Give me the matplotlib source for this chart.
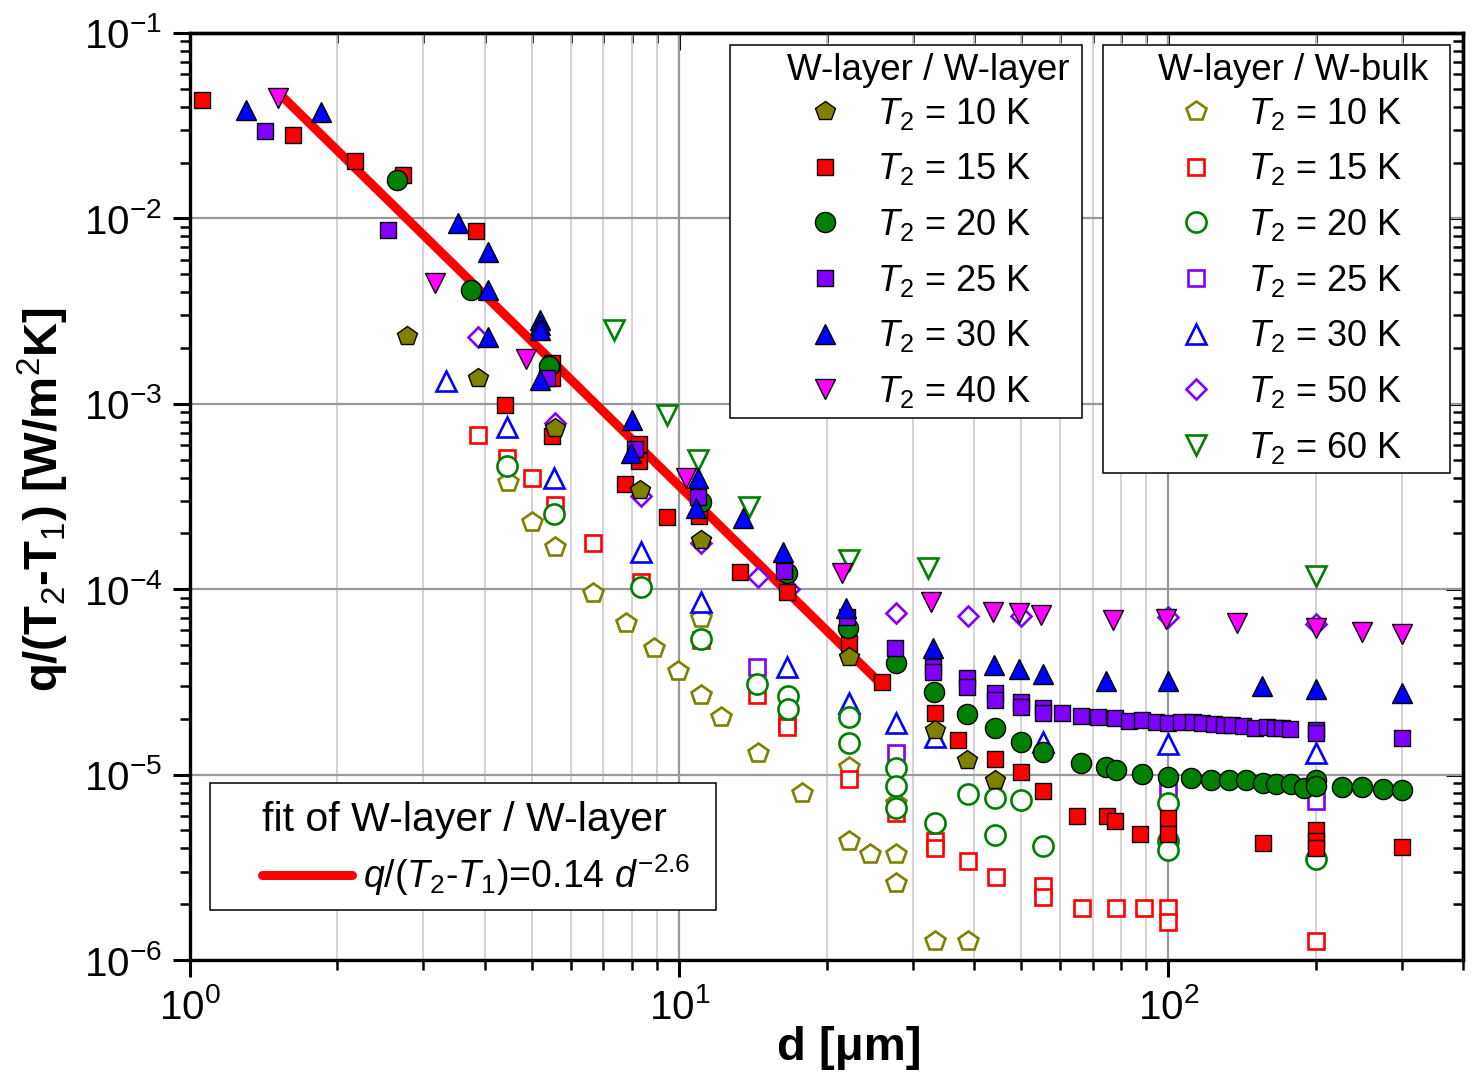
import matplotlib
matplotlib.use('Agg')
import matplotlib.pyplot as plt
from matplotlib.patches import Rectangle
from matplotlib.ticker import NullFormatter

plt.rcParams['font.family'] = ['Liberation Sans', 'DejaVu Sans']
plt.rcParams['mathtext.fontset'] = 'custom'
plt.rcParams['mathtext.rm'] = 'Liberation Sans'
plt.rcParams['mathtext.it'] = 'Liberation Sans:italic'
plt.rcParams['mathtext.bf'] = 'Liberation Sans:bold'

# ---------------- data: W-layer / W-layer (filled) ----------------
f10_d = [2.78, 3.88, 5.57, 8.3, 11.1, 22.2, 33.3, 38.7, 44.3]
f10_q = [2.33e-3, 1.37e-3, 7.4e-4, 3.44e-4, 1.85e-4, 4.3e-5, 1.74e-5, 1.2e-5, 9.4e-6]

f15_d = [1.06, 1.62, 2.17, 2.72, 3.84, 4.40, 5.49, 5.49, 5.5, 7.74, 8.28, 8.28, 9.43, 11.0,
         13.3, 16.6, 22.2, 26.0, 33.3, 37.2, 44.3, 49.9, 55.4, 65.0, 75.0, 77.6, 87.3,
         100, 100, 156, 200, 200, 200, 300]
f15_q = [4.35e-2, 2.82e-2, 2.04e-2, 1.71e-2, 8.5e-3, 9.9e-4, 1.67e-3, 1.37e-3, 6.7e-4, 3.7e-4,
         6.1e-4, 4.9e-4, 2.45e-4, 2.48e-4, 1.24e-4, 9.6e-5, 5.1e-5, 3.15e-5, 2.14e-5, 1.53e-5,
         1.21e-5, 1.03e-5, 8.2e-6, 6.0e-6, 6.0e-6, 5.65e-6, 4.8e-6, 5.8e-6, 4.8e-6, 4.3e-6,
         5.0e-6, 4.4e-6, 4.0e-6, 4.05e-6]

f20_d = [2.65, 3.75, 5.41, 11.1, 16.6, 22.1, 27.7, 33.1, 38.7, 44.3, 49.9, 55.3, 66.4, 74.7,
         78.0, 88.5, 100, 111, 122, 133, 144, 156, 166, 178, 189, 200, 200, 226, 249, 275, 300]
f20_q = [1.61e-2, 4.1e-3, 1.59e-3, 2.96e-4, 1.22e-4, 6.2e-5, 4.0e-5, 2.78e-5, 2.12e-5, 1.78e-5,
         1.49e-5, 1.32e-5, 1.15e-5, 1.10e-5, 1.06e-5, 1.01e-5, 9.75e-6, 9.6e-6, 9.4e-6, 9.3e-6,
         9.3e-6, 9.05e-6, 8.9e-6, 8.9e-6, 8.5e-6, 9.3e-6, 8.7e-6, 8.6e-6, 8.6e-6, 8.4e-6, 8.3e-6]

f25_d = [1.42, 2.54, 5.36, 8.12, 10.9, 16.4, 22.0, 27.6, 33.0, 33.0, 38.7, 38.7, 44.3, 44.3,
         49.9, 49.9, 55.3, 55.3, 60.7, 66.4, 71.9, 77.6, 83.2, 88.5, 94.5, 100, 106, 112, 117,
         124, 130, 135, 142, 150, 159, 165, 171, 177, 200, 200, 300]
f25_q = [2.96e-2, 8.7e-3, 1.37e-3, 5.7e-4, 3.15e-4, 1.26e-4, 7.1e-5, 4.8e-5, 3.8e-5, 3.56e-5,
         3.3e-5, 2.96e-5, 2.75e-5, 2.52e-5, 2.45e-5, 2.31e-5, 2.28e-5, 2.14e-5, 2.16e-5, 2.07e-5,
         2.05e-5, 2.02e-5, 1.94e-5, 1.97e-5, 1.92e-5, 1.89e-5, 1.92e-5, 1.92e-5, 1.89e-5, 1.87e-5,
         1.85e-5, 1.85e-5, 1.82e-5, 1.78e-5, 1.80e-5, 1.78e-5, 1.78e-5, 1.76e-5, 1.74e-5, 1.67e-5,
         1.57e-5]

f30_d = [1.30, 1.85, 3.53, 4.06, 4.06, 4.06, 5.19, 5.19, 5.19, 5.19, 7.96, 8.0, 10.8, 10.9,
         13.5, 16.3, 21.9, 33.0, 43.9, 49.4, 55.3, 74.7, 100, 155, 200, 300]
f30_q = [3.84e-2, 3.75e-2, 9.4e-3, 6.6e-3, 4.1e-3, 2.3e-3, 2.82e-3, 2.65e-3, 2.5e-3, 1.34e-3,
         5.4e-4, 8.2e-4, 2.75e-4, 4.0e-4, 2.43e-4, 1.59e-4, 7.9e-5, 4.8e-5, 3.9e-5, 3.7e-5,
         3.5e-5, 3.2e-5, 3.2e-5, 3.0e-5, 2.9e-5, 2.75e-5]

f40_d = [1.51, 3.17, 4.86, 10.3, 21.5, 32.7, 43.7, 49.4, 55.0, 76.9, 99.0, 138, 200, 249, 300]
f40_q = [4.46e-2, 4.5e-3, 1.74e-3, 4.0e-4, 1.22e-4, 8.5e-5, 7.5e-5, 7.4e-5, 7.3e-5, 6.8e-5,
         6.9e-5, 6.55e-5, 6.2e-5, 5.9e-5, 5.7e-5]

# ---------------- data: W-layer / W-bulk (open) ----------------
o10_d = [4.46, 5.0, 5.57, 6.66, 7.8, 8.9, 9.95, 11.1, 11.1, 12.2, 14.5, 17.8, 22.2, 22.2,
         24.5, 27.7, 27.7, 27.7, 33.3, 38.9]
o10_q = [3.8e-4, 2.31e-4, 1.69e-4, 9.5e-5, 6.55e-5, 4.8e-5, 3.6e-5, 7.0e-5, 2.7e-5, 2.04e-5,
         1.3e-5, 8.0e-6, 1.1e-5, 4.4e-6, 3.75e-6, 7.0e-6, 3.75e-6, 2.6e-6, 1.27e-6, 1.27e-6]

o15_d = [3.88, 4.44, 5.0, 5.57, 6.66, 8.35, 11.1, 14.4, 16.6, 16.6, 22.2, 27.8, 33.3, 33.3,
         38.9, 44.5, 55.4, 55.4, 66.6, 78.0, 89.0, 100, 100, 200]
o15_q = [6.8e-4, 5.1e-4, 4.0e-4, 2.85e-4, 1.78e-4, 1.1e-4, 5.3e-5, 2.7e-5, 1.92e-5, 1.8e-5,
         9.5e-6, 6.2e-6, 4.4e-6, 4.0e-6, 3.4e-6, 2.8e-6, 2.5e-6, 2.2e-6, 1.9e-6, 1.9e-6,
         1.9e-6, 1.9e-6, 1.6e-6, 1.27e-6]

o20_d = [4.44, 5.55, 8.35, 11.1, 14.4, 16.7, 16.7, 22.2, 22.2, 27.8, 27.8, 27.8, 33.3, 38.9,
         44.3, 44.3, 50.0, 55.4, 100, 100, 100, 200]
o20_q = [4.6e-4, 2.55e-4, 1.03e-4, 5.4e-5, 3.1e-5, 2.65e-5, 2.26e-5, 2.04e-5, 1.48e-5, 1.08e-5,
         8.7e-6, 6.6e-6, 5.5e-6, 7.9e-6, 7.5e-6, 4.7e-6, 7.3e-6, 4.1e-6, 7.0e-6, 4.4e-6,
         3.9e-6, 3.5e-6]

o25_d = [14.4, 27.8, 100, 200]
o25_q = [3.8e-5, 1.3e-5, 8.4e-6, 7.2e-6]

o30_d = [3.33, 4.44, 5.55, 8.35, 11.1, 16.6, 22.2, 27.8, 33.3, 55.4, 100, 200]
o30_q = [1.32e-3, 7.5e-4, 4.0e-4, 1.59e-4, 8.5e-5, 3.8e-5, 2.43e-5, 1.89e-5, 1.59e-5,
         1.49e-5, 1.47e-5, 1.3e-5]

o50_d = [3.88, 5.57, 8.35, 11.1, 14.5, 16.8, 27.8, 38.9, 49.9, 100, 200]
o50_q = [2.28e-3, 7.9e-4, 3.2e-4, 1.78e-4, 1.17e-4, 1.0e-4, 7.4e-5, 7.2e-5, 7.2e-5, 7.1e-5, 6.5e-5]

o60_d = [7.35, 9.43, 10.9, 13.9, 22.2, 32.2, 200]
o60_q = [2.5e-3, 8.7e-4, 5.0e-4, 2.78e-4, 1.44e-4, 1.3e-4, 1.18e-4]

# fit line end points
fit_d = [1.55, 25.8]
fit_q = [4.5e-2, 3.1e-5]

filled_labels = ['10', '15', '20', '25', '30', '40']
open_labels = ['10', '15', '20', '25', '30', '50', '60']

OLIVE = '#808000'
RED = '#ff0000'
GREEN = '#008000'
PURPLE = '#8000ff'
BLUE = '#0000ff'
MAGENTA = '#ff00ff'

fig = plt.figure(figsize=(14.75, 10.73), dpi=100)
ax = fig.add_axes([190 / 1475, 1 - 960 / 1073, 1273 / 1475, 927 / 1073])
ax.set_xscale('log')
ax.set_yscale('log')
ax.set_xlim(1, 400)
ax.set_ylim(1e-6, 1e-1)

ax.set_axisbelow(True)
ax.grid(True, which='major', axis='both', color='#999999', lw=1.6)
ax.grid(True, which='minor', axis='x', color='#d0d0d0', lw=1.3)

ax.plot(fit_d, fit_q, color=RED, lw=6.5, solid_capstyle='round', zorder=1.5,
        label=r'$q$/($T_2$-$T_1$)=0.14 $d^{-2.6}$')

styles = {
    '10': ('p', 15, OLIVE),
    '15': ('s', 11.5, RED),
    '20': ('o', 14.5, GREEN),
    '25': ('s', 11.5, PURPLE),
    '30': ('^', 15, BLUE),
    '40': ('v', 15, MAGENTA),
    '50': ('D', 10.5, PURPLE),
    '60': ('v', 15, GREEN),
}

open_data = {'10': (o10_d, o10_q), '15': (o15_d, o15_q), '25': (o25_d, o25_q),
             '30': (o30_d, o30_q), '50': (o50_d, o50_q), '60': (o60_d, o60_q),
             '20': (o20_d, o20_q)}
filled_data = {'15': (f15_d, f15_q), '20': (f20_d, f20_q), '25': (f25_d, f25_q),
               '30': (f30_d, f30_q), '40': (f40_d, f40_q), '10': (f10_d, f10_q)}

open_h = {}
for key, (d, q) in open_data.items():
    m, ms, c = styles[key]
    (h,) = ax.plot(d, q, ls='none', marker=m, ms=ms, mfc='white', mec=c, mew=1.9,
                   zorder=2, label=r'$T_2$ = %s K' % key)
    open_h[key] = h

filled_h = {}
for key, (d, q) in filled_data.items():
    m, ms, c = styles[key]
    (h,) = ax.plot(d, q, ls='none', marker=m, ms=ms, mfc=c, mec='black', mew=1.0,
                   zorder=3, label=r'$T_2$ = %s K' % key)
    filled_h[key] = h

# spines and ticks
for s in ax.spines.values():
    s.set_linewidth(2.4)
ax.tick_params(which='major', direction='out', length=12, width=2.2, labelsize=29, pad=8,
               top=False, right=False)
ax.tick_params(which='minor', direction='out', length=7, width=1.8, top=False, right=False)

secx = ax.secondary_xaxis('top', functions=(lambda v: v, lambda v: v))
secx.tick_params(which='major', direction='in', length=12, width=2.2)
secx.tick_params(which='minor', direction='in', length=7, width=1.8)
secx.xaxis.set_major_formatter(NullFormatter())
secx.xaxis.set_minor_formatter(NullFormatter())
secx.spines['top'].set_linewidth(2.4)

secy = ax.secondary_yaxis('right', functions=(lambda v: v, lambda v: v))
secy.tick_params(which='major', direction='in', length=12, width=2.2)
secy.tick_params(which='minor', direction='in', length=7, width=1.8)
secy.yaxis.set_major_formatter(NullFormatter())
secy.yaxis.set_minor_formatter(NullFormatter())
secy.spines['right'].set_linewidth(2.4)

# axis labels
fig.text(849 / 1475, 1 - 1048 / 1073, 'd [\u03bcm]', fontsize=34, fontweight='bold',
         ha='center', va='center')
fig.text(43 / 1475, 1 - 499 / 1073, 'q/(T$_2$-T$_1$) [W/m$^2$K]', fontsize=34,
         fontweight='bold', rotation=90, ha='center', va='center')

# legend frames
for (x0, y0, x1, y1) in [(730, 45, 1082, 418), (1103, 45, 1450, 473), (210, 783, 716, 910)]:
    ax.add_patch(Rectangle((x0 / 1475, 1 - y1 / 1073), (x1 - x0) / 1475, (y1 - y0) / 1073,
                           transform=fig.transFigure, facecolor='white', edgecolor='black',
                           lw=1.1, zorder=4, clip_on=False))

leg_kw = dict(frameon=False, fontsize=26, title_fontsize=26.5, alignment='left',
              loc='upper left', bbox_transform=fig.transFigure, borderpad=0,
              handlelength=2.1, handletextpad=0.4, labelspacing=0.545, borderaxespad=0)

leg1 = ax.legend(handles=[filled_h[k] for k in filled_labels], title='W-layer / W-layer',
                 bbox_to_anchor=(787 / 1475, 1 - 53 / 1073), **leg_kw)
leg1._legend_box.sep = 5.5
leg1.set_zorder(5)
ax.add_artist(leg1)
leg2 = ax.legend(handles=[open_h[k] for k in open_labels], title='W-layer / W-bulk',
                 bbox_to_anchor=(1158 / 1475, 1 - 53 / 1073), **leg_kw)
leg2._legend_box.sep = 5.5
leg2.set_zorder(5)
ax.add_artist(leg2)

fit_line = ax.get_lines()[0]
leg3 = ax.legend(handles=[fit_line], title='fit of W-layer / W-layer', frameon=False,
                 fontsize=27, title_fontsize=29.5, alignment='left', loc='upper left',
                 bbox_transform=fig.transFigure, bbox_to_anchor=(262 / 1475, 1 - 801 / 1073),
                 borderpad=0, borderaxespad=0, handlelength=2.4, handletextpad=0.3)
leg3._legend_box.sep = 10.0
leg3.set_zorder(5)

fig.savefig('out.png', dpi=100)
